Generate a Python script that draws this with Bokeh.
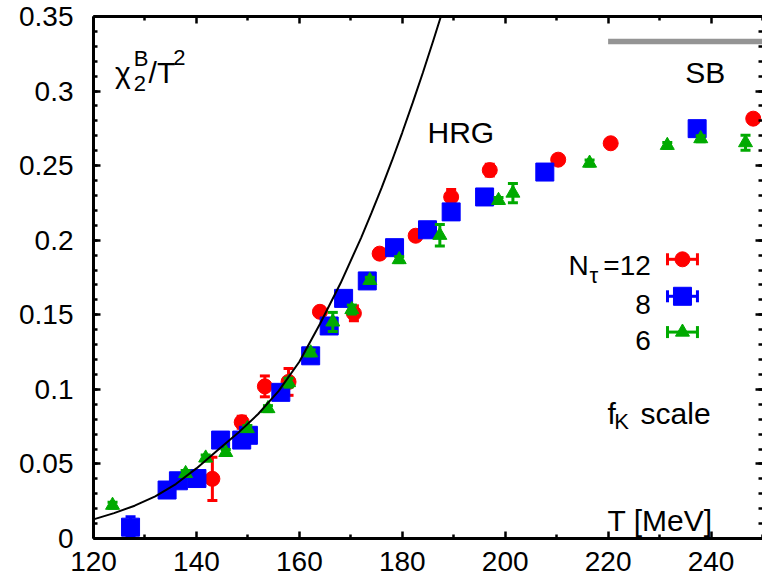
import math
from bokeh.plotting import figure
from bokeh.models import Range1d, LinearAxis, FixedTicker, Label
from bokeh.embed import file_html
from bokeh.resources import INLINE

# ---------------- data ----------------
# N_tau = 12 (red circles)
T12 = [143.1, 148.8, 153.3, 157.9, 164.0, 170.6, 175.6, 182.6, 189.5, 197.0, 210.3, 220.5, 248.2]
chi12 = [0.040, 0.078, 0.102, 0.105, 0.152, 0.151, 0.191, 0.203, 0.229, 0.247, 0.254, 0.265, 0.2815]
err12 = [0.0145, 0.004, 0.007, 0.009, 0.003, 0.005, 0.003, 0.003, 0.005, 0.004, 0.002, 0.002, 0.002]

# N_tau = 8 (blue squares)
T8 = [127.2, 134.3, 136.5, 140.1, 144.7, 148.8, 150.1, 156.4, 162.2, 165.8, 168.6, 173.2, 178.5,
      184.9, 189.5, 196.0, 207.7, 237.3]
chi8 = [0.0076, 0.0325, 0.0387, 0.0402, 0.066, 0.066, 0.0692, 0.098, 0.1225, 0.1425, 0.161, 0.1727,
        0.195, 0.2070, 0.219, 0.229, 0.2457, 0.2748]
err8 = [0.007, 0.003, 0.003, 0.003, 0.003, 0.003, 0.003, 0.003, 0.003, 0.003, 0.003, 0.003, 0.003,
        0.003, 0.003, 0.003, 0.003, 0.003]

# N_tau = 6 (green triangles)
T6 = [123.7, 137.9, 141.8, 145.7, 149.9, 153.9, 157.9, 162.2, 166.5, 170.2, 173.7, 179.4, 187.3,
      198.7, 201.5, 216.4, 231.5, 238.0, 246.7]
chi6 = [0.0223, 0.0436, 0.0540, 0.0577, 0.0737, 0.0871, 0.1045, 0.1245, 0.1452, 0.1535, 0.1731,
        0.187, 0.2033, 0.2267, 0.2316, 0.2517, 0.2636, 0.2681, 0.2654]
err6 = [0.002, 0.002, 0.002, 0.002, 0.002, 0.002, 0.003, 0.002, 0.0064, 0.003, 0.002, 0.002, 0.0072,
        0.002, 0.0064, 0.002, 0.002, 0.002, 0.005]

# HRG curve
T_hrg = [120.0, 124.0, 128.0, 132.0, 136.0, 140.0, 144.0, 148.0, 152.0, 156.0, 160.0, 164.0, 168.0,
         172.0, 174.0, 176.0, 178.0, 180.0, 182.0, 184.0, 186.0, 187.5, 188.3]
chi_hrg = [0.0128, 0.0170, 0.0220, 0.0283, 0.0365, 0.0470, 0.0588, 0.0705, 0.0835, 0.0990, 0.1185,
           0.1438, 0.1711, 0.2016, 0.2181, 0.2353, 0.2533, 0.2722, 0.2919, 0.3123, 0.3336, 0.3500,
           0.3590]

# Stefan-Boltzmann limit
T_sb = [220.0, 250.0]
chi_sb = [0.3333, 0.3333]

# ticks
x_ticks = [120, 140, 160, 180, 200, 220, 240]
x_tick_labels = ["120", "140", "160", "180", "200", "220", "240"]
x_minor = [130, 150, 170, 190, 210, 230, 250]
y_ticks = [0.0, 0.05, 0.1, 0.15, 0.2, 0.25, 0.3, 0.35]
y_tick_labels = ["0", "0.05", "0.1", "0.15", "0.2", "0.25", "0.3", "0.35"]
y_minor = [i / 100 for i in range(0, 36)]

# legend
legend_labels = ["=12", "8", "6"]

# ---------------- styling / layout ----------------
RED, BLUE, GREEN = "#ff0000", "#0000ff", "#00aa00"
FONT = "Liberation Sans"
SZ_R, SZ_B, SZ_G = 15, 18, 14

p = figure(width=762, height=584, x_range=Range1d(120, 250), y_range=Range1d(0, 0.35),
           output_backend="svg", toolbar_location=None,
           min_border_left=93, min_border_right=0, min_border_top=16, min_border_bottom=46)
p.grid.visible = False
p.outline_line_color = None
p.background_fill_color = "white"
p.border_fill_color = "white"

xt = FixedTicker(ticks=x_ticks, minor_ticks=x_minor)
yt = FixedTicker(ticks=y_ticks, minor_ticks=y_minor)


def style_axis(ax, labels=True):
    ax.axis_line_width = 3
    ax.axis_line_color = "black"
    ax.major_tick_in = 7
    ax.major_tick_out = 0
    ax.minor_tick_in = 4
    ax.minor_tick_out = 0
    ax.major_tick_line_width = 2.5
    ax.minor_tick_line_width = 2.5
    ax.major_label_text_font = FONT
    ax.major_label_text_color = "black"
    if labels:
        ax.major_label_text_font_size = "28px"
    else:
        ax.major_label_text_font_size = "0px"
        ax.major_label_standoff = 0


xa = p.xaxis[0]
xa.ticker = xt
xa.major_label_overrides = {t: s for t, s in zip(x_ticks, x_tick_labels)}
style_axis(xa)
xa.major_label_standoff = 13

ya = p.yaxis[0]
ya.ticker = yt
ya.major_label_overrides = {t: s for t, s in zip(y_ticks, y_tick_labels)}
style_axis(ya)
ya.major_label_standoff = 20

top = LinearAxis(ticker=xt)
style_axis(top, labels=False)
top.major_label_overrides = {t: "" for t in x_ticks}
p.add_layout(top, "above")

right = LinearAxis(ticker=yt)
style_axis(right, labels=False)
right.major_label_overrides = {t: "" for t in y_ticks}
right.axis_line_color = None
p.add_layout(right, "right")

# SB line
p.line(T_sb, chi_sb, line_color="#949494", line_width=5.5)


def series(T, chi, err, color, marker, size):
    lo = [c - e for c, e in zip(chi, err)]
    hi = [c + e for c, e in zip(chi, err)]
    p.segment(x0=T, y0=lo, x1=T, y1=hi, line_color=color, line_width=3)
    p.scatter(T, lo, marker="dash", size=10, line_color=color, line_width=3)
    p.scatter(T, hi, marker="dash", size=10, line_color=color, line_width=3)
    p.scatter(T, chi, marker=marker, size=size, fill_color=color, line_color=color, line_width=1)


series(T12, chi12, err12, RED, "circle", SZ_R)
series(T8, chi8, err8, BLUE, "square", SZ_B)
series(T6, chi6, err6, GREEN, "triangle", SZ_G)

# HRG curve on top
p.line(T_hrg, chi_hrg, line_color="black", line_width=2)

# legend (label left, sample right)
LEG_X = 234.45
LEG_HALF = 2.91
LEG_ROWS = [0.1872, 0.1624, 0.1384]
LEG_TXT_X = 228.3
LEG_TXT_Y = [0.1832, 0.1570, 0.1329]
for (color, marker, size), yy in zip([(RED, "circle", SZ_R), (BLUE, "square", SZ_B), (GREEN, "triangle", SZ_G)], LEG_ROWS):
    p.segment(x0=[LEG_X - LEG_HALF], y0=[yy], x1=[LEG_X + LEG_HALF], y1=[yy], line_color=color, line_width=3)
    p.scatter([LEG_X - LEG_HALF, LEG_X + LEG_HALF], [yy, yy], marker="dash", angle=math.pi / 2,
              size=12, line_color=color, line_width=3)
    p.scatter([LEG_X], [yy], marker=marker, size=size, fill_color=color, line_color=color)


def lab(x, y, text, size="30px", align="left"):
    p.add_layout(Label(x=x, y=y, text=text, text_font=FONT, text_font_size=size,
                       text_align=align, text_baseline="alphabetic", text_color="black"))


for txt, yy in zip(legend_labels, LEG_TXT_Y):
    lab(LEG_TXT_X, yy, txt, "28px", "right")
lab(212.3, 0.1832, "N", "28px")
lab(216.4, 0.1765, "τ", "22px")

# y quantity label chi_2^B / T^2
lab(124.2, 0.3125, "χ", "30px")
lab(127.8, 0.3053, "2", "22px")
lab(127.8, 0.3219, "B", "22px")
lab(130.7, 0.3125, "/T", "30px")
lab(135.5, 0.3226, "2", "22px")

lab(184.9, 0.2723, "HRG")
lab(235.0, 0.3125, "SB")
lab(219.9, 0.0123, "T [MeV]")
lab(219.9, 0.0840, "f")
lab(221.2, 0.0786, "K", "22px")
lab(226.3, 0.0840, "scale")

open("out.html", "w").write(file_html(p, INLINE))
